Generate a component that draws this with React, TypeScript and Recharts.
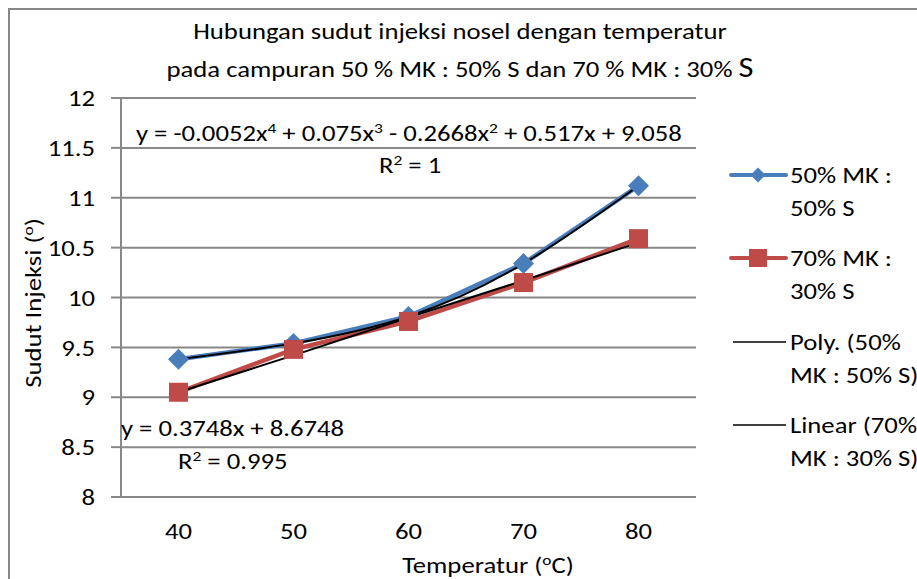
import { ComposedChart, Line, XAxis, YAxis, CartesianGrid } from "recharts"

const temps = ["40", "50", "60", "70", "80"]
const mk50 = [9.38, 9.54, 9.81, 10.34, 11.12]
const mk70 = [9.05, 9.48, 9.76, 10.15, 10.59]
const linTrend70 = [9.05, 9.42, 9.8, 10.17, 10.55]
const yTicks = [8, 8.5, 9, 9.5, 10, 10.5, 11, 11.5, 12]

const BLUE = "#4A7EBB"
const RED = "#BE4B48"
const GRID = "#888888"
const FONT = "Carlito, 'Open Sans', sans-serif"
const FS = 23
const SX = 1.16 // teks di gambar asli sedikit melebar

const data = temps.map((t, i) => ({
    temp: t,
    s1: mk50[i],
    s2: mk70[i],
    lin: linTrend70[i],
}))

// marker ketupat (diamond) untuk seri biru
const Diamond = (props: any) => {
    const { cx, cy } = props
    if (cx == null || cy == null) return null
    const r = 10.5
    return <path d={`M${cx},${cy - r} L${cx + r},${cy} L${cx},${cy + r} L${cx - r},${cy} Z`} fill={BLUE} />
}

const Square = (props: any) => {
    const { cx, cy } = props
    if (cx == null || cy == null) return null
    const s = 19
    return <rect x={cx - s / 2} y={cy - s / 2} width={s} height={s} fill={RED} />
}

const XTick = (props: any) => {
    const { x, y, payload } = props
    return (
        <text transform={`translate(${x},${y}) scale(${SX},1)`} textAnchor="middle" dy="0.71em" fill="#000" fontSize={FS} fontFamily={FONT}>
            {payload.value}
        </text>
    )
}

const YTick = (props: any) => {
    const { x, y, payload } = props
    return (
        <text transform={`translate(${x},${y}) scale(${SX},1)`} textAnchor="end" dy="0.355em" fill="#000" fontSize={FS} fontFamily={FONT}>
            {payload.value}
        </text>
    )
}

const txt: React.CSSProperties = {
    position: "absolute",
    fontFamily: FONT,
    fontSize: FS,
    color: "#000",
    whiteSpace: "nowrap",
    lineHeight: "28px",
    transform: `scaleX(${SX})`,
    transformOrigin: "left center",
}

const mid: React.CSSProperties = { ...txt, transformOrigin: "center center", textAlign: "center" }

const sup: React.CSSProperties = { fontSize: 15, verticalAlign: "8px", lineHeight: 0 }

function LegendItem({ cy, kind, lines }: { cy: number; kind: "blue" | "red" | "black"; lines: string[] }) {
    return (
        <div style={{ position: "absolute", left: 728, top: cy - 16.5 }}>
            <svg width={62} height={20} style={{ position: "absolute", left: 0, top: 6.5 }}>
                {kind === "blue" && (
                    <>
                        <line x1={3} y1={10} x2={58} y2={10} stroke={BLUE} strokeWidth={4} strokeLinecap="round" />
                        <path d="M30,2.5 L37.5,10 L30,17.5 L22.5,10 Z" fill={BLUE} />
                    </>
                )}
                {kind === "red" && (
                    <>
                        <line x1={3} y1={10} x2={58} y2={10} stroke={RED} strokeWidth={4} strokeLinecap="round" />
                        <rect x={21} y={1} width={18} height={18} fill={RED} />
                    </>
                )}
                {kind === "black" && <line x1={5} y1={10} x2={58} y2={10} stroke="#000" strokeWidth={1.5} />}
            </svg>
            <div style={{ ...txt, left: 62, top: 0, lineHeight: "33px" }}>
                {lines.map((l, i) => (
                    <div key={i}>{l}</div>
                ))}
            </div>
        </div>
    )
}

export default function App() {
    return (
        <div style={{ position: "absolute", left: 0, top: 0, width: 917, height: 579, background: "#fff", overflow: "hidden" }}>
            {/* bingkai luar */}
            <div style={{ position: "absolute", left: 8, top: 8, width: 1000, height: 1000, borderLeft: "2px solid #878787", borderTop: "2px solid #878787" }} />

            <ComposedChart width={917} height={579} data={data} margin={{ top: 98, right: 221, bottom: 52, left: 0 }} style={{ position: "absolute", left: 0, top: 0 }}>
                <CartesianGrid vertical={false} stroke={GRID} strokeWidth={2} />
                <XAxis
                    dataKey="temp"
                    height={30}
                    padding={{ left: 57.5, right: 57.5 }}
                    tickLine={false}
                    axisLine={{ stroke: GRID, strokeWidth: 2 }}
                    tickSize={0}
                    tickMargin={26}
                    tick={<XTick />}
                />
                <YAxis
                    width={121}
                    domain={[8, 12]}
                    ticks={yTicks}
                    interval={0}
                    axisLine={{ stroke: GRID, strokeWidth: 2 }}
                    tickLine={{ stroke: GRID, strokeWidth: 2 }}
                    tickSize={10}
                    tickMargin={16}
                    tick={<YTick />}
                />
                <Line dataKey="s1" stroke={BLUE} strokeWidth={4.5} dot={<Diamond />} activeDot={false} isAnimationActive={false} />
                <Line dataKey="s2" stroke={RED} strokeWidth={4.5} dot={<Square />} activeDot={false} isAnimationActive={false} />
                <Line dataKey="s1" type="natural" stroke="#000" strokeWidth={2} dot={false} activeDot={false} isAnimationActive={false} />
                <Line dataKey="lin" stroke="#000" strokeWidth={2} dot={false} activeDot={false} isAnimationActive={false} />
            </ComposedChart>

            {/* judul */}
            <div style={{ ...mid, left: 0, width: 920, top: 17 }}>Hubungan sudut injeksi nosel dengan temperatur</div>
            <div style={{ ...mid, left: 0, width: 920, top: 54 }}>
                pada campuran 50 % MK : 50% S dan 70 % MK : 30% <span style={{ fontSize: 28 }}>S</span>
            </div>

            {/* persamaan trendline */}
            <div style={{ ...txt, left: 136, top: 119 }}>
                y = -0.0052x<span style={sup}>4</span> + 0.075x<span style={sup}>3</span> - 0.2668x<span style={sup}>2</span> + 0.517x + 9.058
            </div>
            <div style={{ ...txt, left: 379, top: 151 }}>
                R<span style={sup}>2</span> = 1
            </div>
            <div style={{ ...txt, left: 121, top: 414 }}>y = 0.3748x + 8.6748</div>
            <div style={{ ...txt, left: 178, top: 447 }}>
                R<span style={sup}>2</span> = 0.995
            </div>

            {/* judul sumbu */}
            <div style={{ ...mid, left: 0, width: 976, top: 551 }}>
                Temperatur (<span style={sup}>o</span>C)
            </div>
            <div style={{ ...mid, left: 33 - 120, top: 303 - 14, width: 240, transform: `rotate(-90deg) scaleX(${SX})` }}>
                Sudut Injeksi (<span style={sup}>o</span>)
            </div>

            {/* legenda */}
            <LegendItem cy={175} kind="blue" lines={["50% MK :", "50% S"]} />
            <LegendItem cy={258} kind="red" lines={["70% MK :", "30% S"]} />
            <LegendItem cy={342} kind="black" lines={["Poly. (50%", "MK : 50% S)"]} />
            <LegendItem cy={425} kind="black" lines={["Linear (70%", "MK : 30% S)"]} />
        </div>
    )
}
